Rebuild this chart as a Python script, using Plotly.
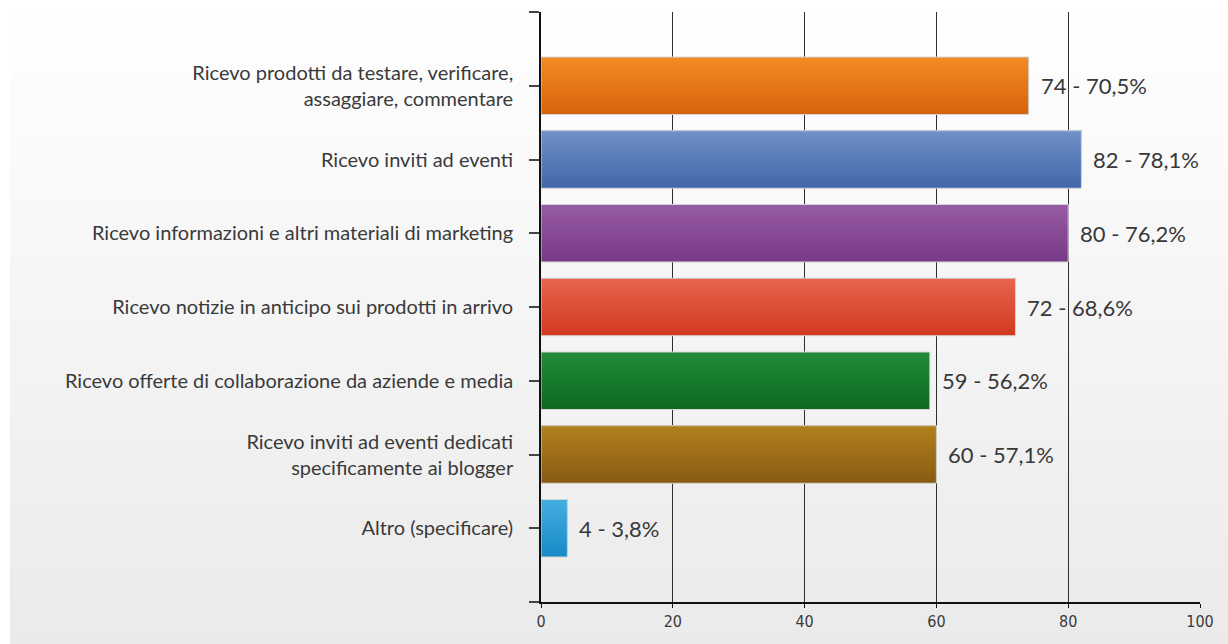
import plotly.graph_objects as go

# Survey answers, counts and percentage of respondents
categories = [
    "Ricevo prodotti da testare, verificare,<br>assaggiare, commentare",
    "Ricevo inviti ad eventi",
    "Ricevo informazioni e altri materiali di marketing",
    "Ricevo notizie in anticipo sui prodotti in arrivo",
    "Ricevo offerte di collaborazione da aziende e media",
    "Ricevo inviti ad eventi dedicati<br>specificamente ai blogger",
    "Altro (specificare)",
]
counts = [74, 82, 80, 72, 59, 60, 4]
percentages = [70.5, 78.1, 76.2, 68.6, 56.2, 57.1, 3.8]
x_ticks = [0, 20, 40, 60, 80, 100]

# Top / bottom colours of each bar's vertical gradient
top_colors = ["#f28c24", "#7092c8", "#975ca2", "#e8644e", "#228c39", "#b2801c", "#44aee2"]
bottom_colors = ["#d6630c", "#4166aa", "#783887", "#d13a20", "#0d6a21", "#875c14", "#188ac6"]

W, H = 1228, 644
M_L, M_R, M_T, M_B = 541, 28, 12, 42
PW, PH = W - M_L - M_R, H - M_T - M_B

positions = list(range(len(categories)))
BAR_W = 0.78
N_STRIPS = 28


def hex_to_rgb(h):
    h = h.lstrip("#")
    return tuple(int(h[i:i + 2], 16) for i in (0, 2, 4))


def mix(c1, c2, t):
    a, b = hex_to_rgb(c1), hex_to_rgb(c2)
    return "rgb({},{},{})".format(*[round(a[i] + (b[i] - a[i]) * t) for i in range(3)])


fig = go.Figure()

# Gradient bars: stacked overlays, each covering from the bar's top edge
# down a shrinking fraction, darkest first so the top ends lightest.
for k in range(N_STRIPS):
    frac = (N_STRIPS - k) / N_STRIPS
    t = 1 - (k + 0.5) / N_STRIPS
    colors = [mix(tc, bc, t) for tc, bc in zip(top_colors, bottom_colors)]
    fig.add_trace(go.Bar(
        x=counts, y=positions, orientation="h",
        width=BAR_W * frac, offset=-BAR_W / 2,
        marker=dict(color=colors, line=dict(width=0)),
        hoverinfo="skip", showlegend=False,
    ))

# Thin light outline around each bar
fig.add_trace(go.Bar(
    x=counts, y=positions, orientation="h",
    width=BAR_W, offset=-BAR_W / 2,
    marker=dict(color="rgba(0,0,0,0)", line=dict(color="#d6d6d6", width=1)),
    hoverinfo="skip", showlegend=False,
))

# Value labels next to each bar
for n, p, pos in zip(counts, percentages, positions):
    label = f"{n} - {p:.1f}%".replace(".", ",")
    fig.add_annotation(
        x=n, y=pos, text=label, showarrow=False,
        xanchor="left", yanchor="middle", xshift=10,
        font=dict(family="Lato, 'Open Sans', sans-serif", size=22, color="#383838"),
    )

# Soft vertical background gradient (white at top to light grey at bottom)
shapes = []
n_bg = 60
x0p = (10 - M_L) / PW
x1p = (W - M_L) / PW
for i in range(n_bg):
    py0 = H * i / n_bg
    py1 = H * (i + 1) / n_bg + 0.6
    t = (i + 0.5) / n_bg
    g = round(255 - 21 * t)
    shapes.append(dict(
        type="rect", xref="paper", yref="paper", layer="below",
        x0=x0p, x1=x1p,
        y0=(H - M_B - py1) / PH, y1=(H - M_B - py0) / PH,
        line=dict(width=0), fillcolor=f"rgb({g},{g},{g + 1})",
    ))

fig.update_layout(
    width=W, height=H,
    margin=dict(l=M_L, r=M_R, t=M_T, b=M_B, pad=0),
    paper_bgcolor="white",
    plot_bgcolor="rgba(0,0,0,0)",
    barmode="overlay",
    shapes=shapes,
    showlegend=False,
)

fig.update_xaxes(
    range=[0, 100], tickvals=x_ticks, ticktext=[str(v) for v in x_ticks],
    showgrid=True, gridcolor="#2e2e2e", gridwidth=1.2,
    showline=True, linecolor="#111111", linewidth=1.6,
    ticks="outside", ticklen=4, tickcolor="#111111", tickwidth=1.2,
    zeroline=False,
    tickfont=dict(family="'Liberation Sans Narrow', 'DejaVu Sans Condensed', sans-serif",
                  size=16, color="#3a3a3a"),
    ticklabelstandoff=0,
)

fig.update_yaxes(
    range=[len(categories), -1],
    tickvals=[-1] + positions + [len(categories)],
    ticktext=[""] + categories + [""],
    showgrid=False, zeroline=False,
    showline=True, linecolor="#111111", linewidth=1.6,
    ticks="outside", ticklen=10, tickcolor="#444444", tickwidth=1.5,
    tickfont=dict(family="Lato, 'Open Sans', sans-serif", size=20, color="#3a3a3a"),
    ticklabelstandoff=12,
)

fig.write_html("out.html")
